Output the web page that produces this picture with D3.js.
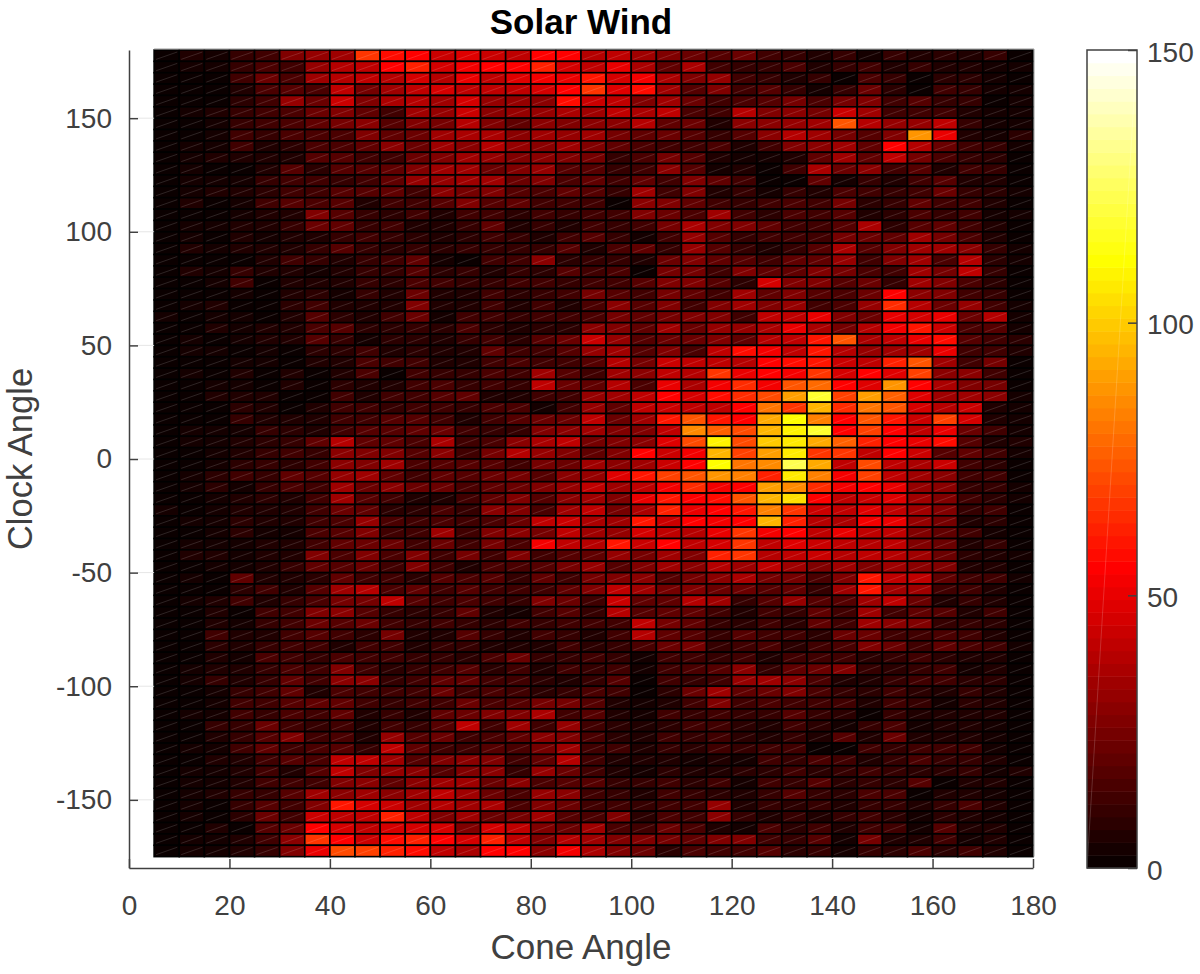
<!DOCTYPE html>
<html><head><meta charset="utf-8">
<script src="https://cdn.jsdelivr.net/npm/d3@7"></script>
<style>html,body{margin:0;background:#fff}svg{display:block}text{font-family:"Liberation Sans",Arial,sans-serif}</style>
</head><body><svg id="c" width="1200" height="974"></svg>
<script>
const coneStart=[5,10,15,20,25,30,35,40,45,50,55,60,65,70,75,80,85,90,95,100,105,110,115,120,125,130,135,140,145,150,155,160,165,170,175];
const clockTop=[180,175,170,165,160,155,150,145,140,135,130,125,120,115,110,105,100,95,90,85,80,75,70,65,60,55,50,45,40,35,30,25,20,15,10,5,0,-5,-10,-15,-20,-25,-30,-35,-40,-45,-50,-55,-60,-65,-70,-75,-80,-85,-90,-95,-100,-105,-110,-115,-120,-125,-130,-135,-140,-145,-150,-155,-160,-165,-170];
const xTicks=[0,20,40,60,80,100,120,140,160,180];
const yTicks=[-150,-100,-50,0,50,100,150];
const barTicks=[0,50,100,150];
const counts=[
[2,5,4,10,14,26,32,33,66,58,56,44,48,44,42,54,56,38,40,33,28,22,18,22,14,10,7,11,3,10,7,8,7,10,2],
[2,4,3,11,16,14,32,38,42,56,62,46,52,56,54,62,46,42,50,37,20,37,12,10,11,15,5,11,14,7,10,7,5,3,4],
[1,2,2,13,22,15,33,38,41,38,46,38,50,41,48,52,50,60,46,52,37,28,32,12,10,7,11,1,16,10,1,8,8,3,1],
[1,2,2,7,16,18,16,40,24,33,40,46,41,40,42,46,54,66,48,58,35,18,28,12,18,10,3,10,22,8,1,14,10,3,3],
[1,2,2,8,14,32,22,44,26,37,38,35,46,32,32,30,58,44,42,26,35,22,12,16,18,24,16,24,28,14,18,10,10,1,4],
[2,4,5,10,12,15,23,26,21,14,33,32,44,30,32,32,37,35,40,37,41,16,14,38,28,30,24,44,33,12,14,14,7,3,4],
[1,2,3,10,13,16,19,24,30,18,26,24,38,28,20,30,28,30,30,38,19,22,5,30,30,32,35,74,38,32,32,40,10,3,3],
[1,2,4,12,10,16,15,15,28,21,22,35,37,37,30,33,32,35,24,19,22,18,11,18,30,38,33,24,18,28,88,50,7,3,8],
[1,4,4,12,5,8,15,15,19,30,22,33,30,38,32,30,33,28,19,16,14,12,16,7,13,28,30,33,20,56,38,22,12,10,3],
[1,3,7,5,7,5,18,17,14,12,22,26,35,32,28,30,26,24,11,16,24,18,7,3,3,5,20,33,20,40,24,16,10,8,2],
[1,4,2,1,7,18,8,17,17,21,26,35,33,22,28,32,18,18,11,12,30,18,3,5,1,14,37,22,30,12,18,7,12,10,1],
[1,4,3,3,11,12,12,11,14,21,32,32,35,35,22,26,16,20,14,20,12,26,20,14,1,1,20,3,10,7,14,18,7,7,1],
[1,4,6,5,8,14,13,18,17,20,14,30,24,26,18,16,20,18,11,35,14,28,5,10,3,11,7,16,13,10,12,22,11,8,3],
[1,6,2,3,13,17,16,18,7,14,14,18,28,18,20,12,14,12,1,30,28,20,12,10,12,16,12,24,8,11,20,14,14,5,2],
[1,2,2,3,5,5,26,18,10,8,12,7,12,14,8,14,10,14,14,26,22,16,33,12,8,16,12,18,7,8,16,10,13,3,3],
[1,3,4,5,5,10,22,19,10,12,7,5,10,20,7,11,5,14,10,12,24,37,28,26,20,14,12,18,37,8,18,20,12,7,1],
[1,3,2,5,3,7,7,10,12,11,8,7,8,14,10,5,14,18,10,3,14,32,18,10,14,12,14,24,22,20,33,24,16,7,2],
[1,5,3,7,7,5,10,17,10,8,10,8,10,10,10,10,18,5,16,19,11,32,18,10,5,11,18,37,18,26,35,35,30,10,3],
[1,2,2,1,5,12,10,5,10,13,20,3,1,12,12,30,8,11,10,5,22,26,20,18,12,20,20,32,14,28,33,16,38,8,3],
[1,6,4,11,7,5,3,7,10,10,18,8,10,7,11,8,18,14,16,1,24,24,12,26,20,20,26,24,16,14,33,24,42,10,2],
[1,2,3,13,1,5,7,7,10,8,16,13,11,10,13,12,11,14,14,18,28,28,18,8,46,26,28,18,22,10,35,28,16,8,2],
[1,2,2,3,1,5,8,3,10,5,22,7,7,12,8,11,13,24,18,14,24,20,14,35,20,26,18,16,22,56,30,28,12,10,1],
[1,4,6,1,1,8,12,7,7,5,26,7,7,14,7,14,7,16,30,18,28,14,26,33,26,32,14,16,32,64,38,22,32,13,3],
[4,1,3,3,1,5,18,8,5,12,22,3,12,13,11,12,13,16,24,20,24,28,26,14,42,40,50,26,22,50,46,50,22,38,4],
[1,1,5,3,5,5,16,17,8,8,10,8,16,8,7,8,8,30,28,20,35,22,32,32,37,50,37,24,38,52,60,44,16,18,3],
[1,3,1,3,7,7,17,10,3,8,8,7,10,12,8,18,22,44,32,18,22,22,26,20,38,41,60,74,37,41,50,58,18,12,8],
[1,3,3,1,3,1,8,8,13,7,8,7,7,20,14,14,18,32,35,18,26,16,40,58,52,41,60,38,32,35,33,50,12,14,5],
[1,1,1,3,3,1,7,7,16,13,12,7,7,12,16,13,14,18,38,24,44,40,42,38,56,58,60,44,42,62,74,33,12,24,1],
[1,4,1,7,1,5,1,7,15,1,14,10,10,16,12,33,18,14,35,30,42,38,66,50,56,52,66,46,56,48,68,30,30,12,2],
[1,2,4,3,1,5,1,8,5,5,12,16,10,14,11,42,22,21,38,16,50,37,52,64,52,74,78,56,48,88,56,37,28,24,2],
[1,1,6,7,7,1,1,12,7,12,12,18,19,7,5,14,14,32,35,42,56,46,58,64,72,90,118,70,90,76,48,33,35,30,3],
[2,1,2,8,7,1,7,12,14,10,14,12,11,16,16,3,12,32,20,40,44,42,41,54,80,66,94,64,80,74,46,38,44,7,4],
[2,2,2,10,7,7,5,13,13,18,18,12,7,12,18,22,22,40,22,33,60,74,60,56,92,112,84,54,74,60,44,68,46,7,4],
[1,4,3,3,10,8,5,12,17,18,20,22,13,10,11,26,30,35,28,28,41,86,76,72,94,110,118,56,68,54,42,50,22,12,4],
[2,4,3,7,8,10,20,38,19,19,16,37,12,16,30,37,41,24,28,30,48,72,108,72,100,106,92,76,62,56,50,58,18,7,5],
[1,2,4,5,11,12,10,30,26,28,18,30,13,24,38,32,26,20,26,54,44,52,96,68,90,106,66,66,41,54,44,18,20,12,4],
[1,1,4,8,10,8,13,30,28,33,16,18,18,18,14,24,22,35,30,35,44,54,112,80,86,124,92,42,72,42,37,44,14,8,2],
[2,3,8,14,10,20,18,32,34,19,12,20,18,22,24,18,30,32,48,60,70,74,88,84,62,106,84,52,70,41,35,30,13,12,2],
[1,4,8,3,10,15,13,33,22,30,22,22,16,20,22,28,32,41,33,40,52,64,52,54,90,86,64,52,54,50,32,30,11,11,3],
[1,2,4,5,8,7,12,33,18,12,7,7,14,20,28,18,30,33,28,50,60,54,58,74,94,104,54,42,44,48,35,28,12,8,3],
[3,2,3,5,5,7,13,22,19,8,8,16,11,30,26,16,35,41,24,37,62,50,54,60,84,66,44,40,48,41,33,26,10,12,1],
[1,3,4,8,5,7,14,15,32,16,14,16,12,16,22,40,44,37,33,60,44,56,52,54,94,62,38,37,52,50,32,24,7,8,2],
[1,1,4,8,3,3,16,17,28,12,12,33,14,28,30,24,42,35,32,46,40,38,50,66,52,56,41,50,40,40,28,20,12,3,1],
[1,3,4,3,5,5,12,21,22,22,14,22,14,24,16,52,42,38,60,44,56,40,46,66,41,48,44,40,38,40,28,22,5,10,1],
[1,5,6,3,5,5,28,16,26,16,26,14,24,14,28,12,18,20,32,24,33,28,62,66,38,42,44,38,41,38,33,22,8,5,3],
[1,1,4,3,5,10,20,18,22,13,28,12,5,16,16,18,24,32,18,28,35,30,38,33,42,33,28,33,26,33,30,26,7,7,2],
[1,4,1,20,5,7,8,20,13,14,8,18,16,18,11,19,12,24,28,30,18,24,30,37,24,24,16,26,60,40,40,20,14,12,3],
[1,2,1,8,12,5,17,35,38,16,20,12,18,13,12,14,20,26,41,33,24,26,22,22,18,20,11,33,60,33,35,14,12,7,2],
[1,3,5,13,5,10,16,24,24,40,18,14,16,12,10,28,22,14,44,20,20,38,35,10,18,32,18,18,35,40,22,7,11,5,1],
[2,1,6,1,12,12,28,30,18,11,8,10,20,5,3,13,18,10,38,18,20,20,13,7,13,11,20,14,33,14,20,18,5,12,1],
[1,1,5,3,10,12,22,18,22,12,11,14,10,8,12,10,12,12,14,41,24,20,11,8,13,8,20,14,33,30,26,10,11,8,1],
[1,1,12,7,7,12,18,14,8,24,7,7,18,10,7,14,11,7,12,38,20,18,10,18,13,12,8,22,22,12,14,16,14,7,2],
[1,1,8,5,10,12,14,7,12,12,5,10,10,5,7,5,12,8,11,16,22,24,11,12,16,8,12,16,28,22,13,20,16,14,4],
[1,1,6,3,16,14,11,16,14,12,10,10,8,16,22,10,10,12,10,3,14,13,10,14,5,13,14,12,8,11,12,8,5,7,1],
[1,3,5,7,11,16,12,28,12,8,10,14,18,8,14,5,13,11,14,3,13,16,18,30,11,20,22,26,10,8,10,14,3,7,1],
[1,3,10,7,10,20,13,30,30,11,12,20,20,14,14,8,7,11,18,1,12,11,12,32,35,30,16,7,7,11,12,12,8,8,2],
[1,1,3,11,12,20,7,15,13,12,12,22,12,16,14,8,11,16,12,1,8,22,35,20,22,26,16,11,8,14,8,5,10,5,1],
[2,1,3,14,12,18,19,19,13,11,14,12,22,16,18,24,24,18,7,3,7,12,28,14,16,13,13,14,5,12,11,3,8,5,1],
[1,3,3,12,11,15,14,20,7,11,7,20,22,26,26,37,14,18,7,3,13,10,12,10,11,18,10,8,1,10,7,5,7,5,1],
[2,2,10,10,22,13,10,12,5,13,10,18,41,14,35,14,32,14,8,5,8,12,14,8,7,12,8,3,11,16,3,5,5,3,1],
[1,1,5,11,18,26,12,15,5,32,18,22,14,16,20,30,26,16,8,7,14,11,14,8,5,10,7,18,7,22,5,5,5,3,1],
[2,3,4,13,19,12,16,18,11,41,20,12,13,18,16,24,33,14,14,7,11,8,12,10,12,13,1,1,12,10,13,12,14,3,2],
[1,1,6,7,13,18,16,41,40,33,18,26,30,26,12,20,38,12,7,7,5,3,5,3,14,10,16,14,5,11,16,11,10,5,2],
[1,3,4,5,13,7,18,40,28,32,30,18,28,30,10,32,22,12,7,3,8,5,7,8,8,14,8,10,12,11,8,8,11,3,6],
[1,3,4,5,13,12,14,28,30,20,30,33,33,22,30,16,18,18,10,11,13,8,14,3,12,10,18,8,10,8,18,1,7,5,2],
[1,3,5,10,11,17,33,29,33,30,35,42,35,22,16,32,30,13,11,7,12,10,8,7,10,18,11,8,16,16,1,5,7,3,2],
[1,4,1,11,18,12,28,60,46,44,33,38,33,37,16,26,22,14,12,10,12,13,32,5,10,8,10,5,10,10,7,10,16,7,1],
[1,3,1,8,22,14,44,41,40,62,41,28,35,22,24,35,18,16,28,8,16,12,30,10,5,10,5,10,14,8,3,8,7,3,1],
[1,2,5,1,18,22,54,46,41,46,46,46,28,46,41,28,22,35,16,14,22,16,7,3,16,8,12,5,12,12,3,18,7,5,2],
[1,3,3,5,13,30,66,56,44,58,62,54,46,62,42,26,38,33,26,28,24,20,26,28,12,10,18,3,24,7,5,13,3,5,1],
[1,3,3,7,10,28,50,72,68,62,58,41,37,54,56,30,52,37,28,22,8,16,12,12,18,8,10,3,10,8,16,8,12,5,2]
];

// MATLAB/Octave "hot" colormap, 64 levels
const hot=d3.range(64).map(k=>{
  const r=Math.min(1,(k+1)/24),g=Math.max(0,Math.min(1,(k+1-24)/24)),b=Math.max(0,(k+1-48)/16);
  return d3.rgb(r*255,g*255,b*255).formatHex();
});
const svg=d3.select("#c");
const ink="#404040";
const x=d3.scaleLinear().domain([0,180]).range([129,1033]);
const y=d3.scaleLinear().domain([-180,180]).range([868,50]);
const col=d3.scaleQuantize().domain([0,150]).range(hot);
const binW=5,binH=5;

const cells=[];
clockTop.forEach((t,i)=>coneStart.forEach((c,j)=>cells.push({c,t,v:counts[i][j]})));
const g=svg.append("g");
g.selectAll("rect").data(cells).join("rect")
 .attr("x",d=>x(d.c)).attr("y",d=>y(d.t))
 .attr("width",d=>x(d.c+binW)-x(d.c)).attr("height",d=>y(d.t-binH)-y(d.t))
 .attr("fill",d=>col(d.v)).attr("stroke","#000").attr("stroke-width",1.6);
g.selectAll("line").data(cells).join("line")
 .attr("x1",d=>x(d.c)+2).attr("y1",d=>y(d.t-binH)-2)
 .attr("x2",d=>x(d.c+binW)-2).attr("y2",d=>y(d.t)+2)
 .attr("stroke","#fff").attr("stroke-opacity",.18).attr("stroke-width",.8);

// outer hairline on top and right of the mesh
svg.append("path").attr("d",`M${x(5)},${y(180)-1}H${x(180)+1}V${y(-175)}`).attr("fill","none").attr("stroke","#999").attr("stroke-width",1);

// axes
svg.append("g").selectAll("line").data(yTicks).join("line")
 .attr("x1",x(0)+9).attr("x2",x(5)).attr("y1",d=>y(d)).attr("y2",d=>y(d)).attr("stroke","#e6e6e6").attr("stroke-width",1);
const xa=svg.append("g").attr("transform",`translate(0,${y(-180)})`)
 .call(d3.axisBottom(x).tickValues(xTicks).tickSizeInner(-9).tickSizeOuter(0).tickPadding(24));
const ya=svg.append("g").attr("transform",`translate(${x(0)},0)`)
 .call(d3.axisLeft(y).tickValues(yTicks).tickSizeInner(-9).tickSizeOuter(0).tickPadding(17).tickFormat(d=>String(d)));
[xa,ya].forEach(a=>{
  a.selectAll("path,line").attr("stroke",ink).attr("stroke-width",1.5);
  a.selectAll("text").attr("fill",ink).attr("font-size",28).attr("font-family",'"Liberation Sans"');
});
xa.selectAll("text").attr("dy","0.71em").attr("y",27);
svg.append("text").attr("x",581).attr("y",34).attr("text-anchor","middle").attr("font-size",35).attr("font-weight","bold").attr("fill","#000").text("Solar Wind");
svg.append("text").attr("x",581).attr("y",959).attr("text-anchor","middle").attr("font-size",35).attr("fill",ink).text("Cone Angle");
svg.append("text").attr("transform","translate(32,459) rotate(-90)").attr("text-anchor","middle").attr("font-size",34.5).attr("fill",ink).text("Clock Angle");

// colourbar
const cb=d3.scaleLinear().domain([0,150]).range([868,50]);
const step=150/hot.length;
svg.append("g").selectAll("rect").data(hot).join("rect")
 .attr("x",1087).attr("width",50).attr("y",(d,i)=>cb((i+1)*step)).attr("height",(d,i)=>cb(i*step)-cb((i+1)*step)+.5).attr("fill",d=>d);
svg.append("line").attr("x1",1087).attr("y1",cb(0)).attr("x2",1137).attr("y2",cb(150)).attr("stroke","#fff").attr("stroke-opacity",.22).attr("stroke-width",.8);
svg.append("rect").attr("x",1087).attr("y",cb(150)).attr("width",50).attr("height",cb(0)-cb(150)).attr("fill","none").attr("stroke",ink).attr("stroke-width",1.5);
const ca=svg.append("g").attr("transform","translate(1137,0)")
 .call(d3.axisRight(cb).tickValues(barTicks).tickSizeInner(-9).tickSizeOuter(0).tickPadding(10));
ca.select("path").remove();
ca.selectAll("line").attr("stroke",ink).attr("stroke-width",1.5);
ca.selectAll("text").attr("fill",ink).attr("font-size",28).attr("dy","0.4em");
</script></body></html>
